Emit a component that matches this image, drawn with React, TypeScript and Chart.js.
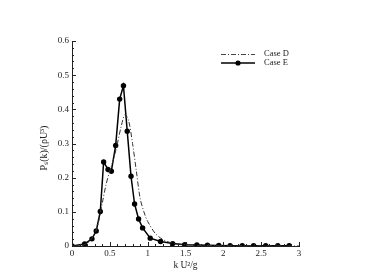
import React, { useEffect, useRef } from "react";
import { Chart, registerables } from "chart.js";

Chart.register(...registerables);

const kCaseE = [0, 0.167, 0.264, 0.32, 0.374, 0.418, 0.476, 0.52, 0.577, 0.63, 0.68, 0.73, 0.78, 0.827, 0.88, 0.933, 1.034, 1.17, 1.33, 1.49, 1.65, 1.79, 1.94, 2.09, 2.25, 2.4, 2.56, 2.72, 2.87];
const vCaseE = [0, 0.006, 0.021, 0.044, 0.101, 0.246, 0.224, 0.219, 0.294, 0.43, 0.469, 0.336, 0.204, 0.123, 0.079, 0.053, 0.023, 0.013, 0.007, 0.004, 0.003, 0.002, 0.0015, 0.001, 0.001, 0.001, 0.001, 0.001, 0.001];

const kCaseD = [0, 0.1, 0.2, 0.3, 0.35, 0.4, 0.45, 0.5, 0.55, 0.6, 0.65, 0.7, 0.75, 0.8, 0.85, 0.9, 0.95, 1.0, 1.1, 1.2, 1.3, 1.4, 1.5, 1.7, 2.0, 2.5, 3.0];
const vCaseD = [0, 0.001, 0.008, 0.035, 0.07, 0.125, 0.18, 0.22, 0.255, 0.3, 0.35, 0.385, 0.365, 0.3, 0.22, 0.14, 0.1, 0.072, 0.037, 0.019, 0.01, 0.006, 0.004, 0.002, 0.001, 0.0005, 0];

const seriesNames = ["Case D", "Case E"];
const xTitle = "k U²/g";
const yTitle = "Pₛ(k)/(ρU³)";

const FONT = "'Liberation Serif', 'Times New Roman', serif";
const INK = "#222";

const decorPlugin = {
  id: "decor",
  afterDraw(chart: any) {
    const ctx = chart.ctx;
    const xs = chart.scales.x;
    const ys = chart.scales.y;
    const area = chart.chartArea;
    ctx.save();
    ctx.strokeStyle = INK;
    ctx.lineWidth = 1;
    for (let i = 0; i <= 30; i++) {
      const v = i * 0.1;
      const px = Math.round(xs.getPixelForValue(v)) + 0.5;
      const major = i % 5 === 0;
      const len = major ? 4 : 2;
      ctx.beginPath();
      ctx.moveTo(px, area.bottom);
      ctx.lineTo(px, area.bottom - len);
      ctx.stroke();
    }
    for (let i = 0; i <= 30; i++) {
      const v = i * 0.02;
      const py = Math.round(ys.getPixelForValue(v)) + 0.5;
      const major = i % 5 === 0;
      const len = major ? 4 : 2;
      ctx.beginPath();
      ctx.moveTo(area.left, py);
      ctx.lineTo(area.left + len, py);
      ctx.stroke();
    }
    ctx.fillStyle = INK;
    ctx.font = `9.5px ${FONT}`;
    ctx.textAlign = "center";
    ctx.textBaseline = "middle";
    ctx.fillText(xTitle, (area.left + area.right) / 2, 265);
    ctx.save();
    ctx.translate(44, 148);
    ctx.rotate(-Math.PI / 2);
    ctx.font = `10px ${FONT}`;
    ctx.fillText(yTitle, 0, 0);
    ctx.restore();

    const lx0 = 221, lx1 = 255, tx = 264;
    const ly = [54, 63];
    ctx.save();
    ctx.strokeStyle = "#444";
    ctx.lineWidth = 1;
    ctx.setLineDash([5, 2, 1, 2]);
    ctx.beginPath();
    ctx.moveTo(lx0, ly[0] + 0.5);
    ctx.lineTo(lx1, ly[0] + 0.5);
    ctx.stroke();
    ctx.restore();
    ctx.strokeStyle = "#000";
    ctx.lineWidth = 1.5;
    ctx.beginPath();
    ctx.moveTo(lx0, ly[1]);
    ctx.lineTo(lx1, ly[1]);
    ctx.stroke();
    ctx.fillStyle = "#000";
    ctx.beginPath();
    ctx.arc((lx0 + lx1) / 2, ly[1], 2.6, 0, Math.PI * 2);
    ctx.fill();
    ctx.fillStyle = INK;
    ctx.textAlign = "left";
    ctx.font = `8.5px ${FONT}`;
    ctx.fillText(seriesNames[0], tx, ly[0]);
    ctx.fillText(seriesNames[1], tx, ly[1]);
    ctx.restore();
  },
};

export default function App() {
  const ref = useRef<HTMLCanvasElement>(null);
  useEffect(() => {
    if (!ref.current) return;
    const chart = new Chart(ref.current, {
      type: "line",
      data: {
        datasets: [
          {
            label: seriesNames[0],
            data: kCaseD.map((k, i) => ({ x: k, y: vCaseD[i] })),
            borderColor: "#333",
            borderWidth: 1,
            borderDash: [5, 2, 1, 2],
            pointRadius: 0,
            tension: 0.3,
            fill: false,
          },
          {
            label: seriesNames[1],
            data: kCaseE.map((k, i) => ({ x: k, y: vCaseE[i] })),
            borderColor: "#000",
            backgroundColor: "#000",
            borderWidth: 1.5,
            pointRadius: 2.7,
            pointBackgroundColor: "#000",
            pointBorderWidth: 0,
            tension: 0,
            fill: false,
          },
        ],
      },
      options: {
        animation: false,
        responsive: false,
        maintainAspectRatio: false,
        layout: { padding: { left: 0, top: 41, right: 93, bottom: 0 } },
        plugins: {
          legend: { display: false },
          tooltip: { enabled: false },
          title: { display: false },
        },
        scales: {
          x: {
            type: "linear",
            min: 0,
            max: 3,
            grid: { display: false, drawTicks: false },
            border: { display: true, color: INK, width: 1 },
            ticks: {
              stepSize: 0.5,
              color: INK,
              font: { family: FONT, size: 9 },
              padding: 2,
              maxRotation: 0,
              callback: (v: any) => String(Math.round(Number(v) * 10) / 10),
            },
            afterFit: (s: any) => {
              s.height = 31;
            },
          },
          y: {
            type: "linear",
            min: 0,
            max: 0.6,
            grid: { display: false, drawTicks: false },
            border: { display: true, color: INK, width: 1 },
            ticks: {
              stepSize: 0.1,
              color: INK,
              font: { family: FONT, size: 9 },
              padding: 3,
              callback: (v: any) => String(Math.round(Number(v) * 10) / 10),
            },
            afterFit: (s: any) => {
              s.width = 72;
            },
          },
        },
      },
      plugins: [decorPlugin],
    });
    return () => chart.destroy();
  }, []);
  return (
    <div style={{ position: "fixed", left: 0, top: 0, width: 392, height: 277, background: "#fff" }}>
      <canvas ref={ref} width={392} height={277} style={{ width: 392, height: 277, display: "block" }} />
    </div>
  );
}
